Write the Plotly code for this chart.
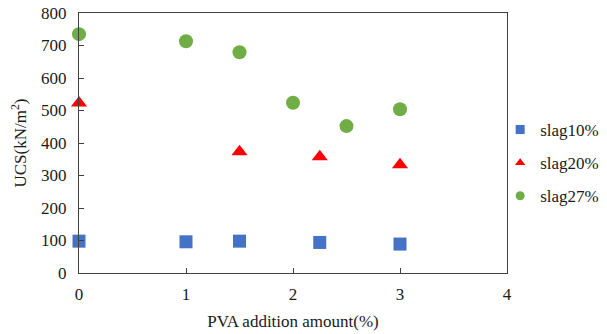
import plotly.graph_objects as go

x_slag10 = [0, 1, 1.5, 2.25, 3]
y_slag10 = [98, 96, 98, 94, 89]
x_slag20 = [0, 1.5, 2.25, 3]
y_slag20 = [523, 373, 358, 333]
x_slag27 = [0, 1, 1.5, 2, 2.5, 3]
y_slag27 = [735, 713, 679, 524, 452, 504]

series_names = ["slag10%", "slag20%", "slag27%"]
series_colors = ["#4472C4", "#FF0000", "#70AD47"]
series_symbols = ["square", "triangle-up", "circle"]
series_x = [x_slag10, x_slag20, x_slag27]
series_y = [y_slag10, y_slag20, y_slag27]
marker_sizes = [13, 14, 14]

FONT = "Liberation Serif"

fig = go.Figure()
for i, name in enumerate(series_names):
    fig.add_trace(go.Scatter(x=series_x[i], y=series_y[i], mode="markers", name=name,
                             showlegend=False, cliponaxis=False,
                             marker=dict(symbol=series_symbols[i], size=marker_sizes[i],
                                         color=series_colors[i])))
for i, name in enumerate(series_names):
    # legend entries (smaller legend symbols as in the reference)
    fig.add_trace(go.Scatter(x=[None], y=[None], mode="markers", name=name,
                             legendgroup=name, showlegend=True,
                             marker=dict(symbol=series_symbols[i], size=9, color=series_colors[i])))

axis_common = dict(showline=True, linecolor="#404040", linewidth=1.3, mirror=True, automargin=False,
                   ticks="inside", ticklen=5, tickcolor="#404040", showgrid=False, zeroline=False,
                   ticklabeloverflow="allow",
                   tickfont=dict(family=FONT, size=17, color="#1a1a1a"))

fig.update_layout(
    width=607, height=334,
    margin=dict(l=71, r=108, t=5, b=69),
    paper_bgcolor="white", plot_bgcolor="white",
    font=dict(family=FONT, size=17, color="#1a1a1a"),
    xaxis=dict(range=[0, 4], dtick=1, ticklabelstandoff=5,
               title=dict(text="PVA addition amount(%)", standoff=12, font=dict(family=FONT, size=17)),
               **axis_common),
    yaxis=dict(range=[0, 800], dtick=100, ticklabelstandoff=8,
               title=dict(text="UCS(kN/m<sup>2</sup>)", standoff=21, font=dict(family=FONT, size=17)),
               **axis_common),
    legend=dict(x=0.984, xanchor="left", y=0.423, yanchor="middle", tracegroupgap=8,
                traceorder="grouped", itemwidth=30,
                font=dict(family=FONT, size=17), bgcolor="rgba(0,0,0,0)"),
)

fig.write_html("out.html", config={"displayModeBar": False})
